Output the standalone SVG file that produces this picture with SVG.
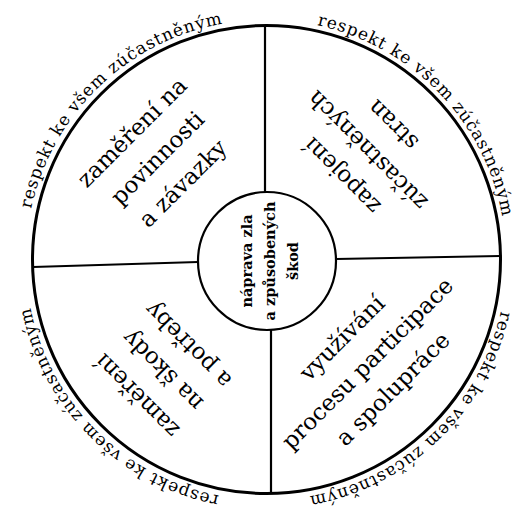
<svg xmlns="http://www.w3.org/2000/svg" width="528" height="519" viewBox="0 0 528 519">
  <style>
    .ring { fill: none; stroke: #000; stroke-width: 3; }
    .hub { fill: #fff; stroke: #000; stroke-width: 2.2; }
    .div { stroke: #000; stroke-width: 2.2; fill: none; }
    .outer { font-family: "DejaVu Serif", serif; font-size: 17px; letter-spacing: 0.9px; fill: #000; }
    .quad { font-family: "DejaVu Serif", serif; font-size: 23px; fill: #000; text-anchor: middle; }
    .core { font-family: "DejaVu Serif", serif; font-size: 14.5px; font-weight: bold; fill: #000; text-anchor: middle; }
  </style>
  <defs>
    <path id="arcTL" d="M26.6,276.7 A239,239 0 0 1 291.1,21.3"/>
    <path id="arcTR" d="M249.3,20.6 A239,239 0 0 1 504.7,285.1"/>
    <path id="arcBR" d="M505.4,243.3 A239,239 0 0 1 240.9,498.7"/>
    <path id="arcBL" d="M286.9,499.1 A239,239 0 0 1 26.9,239.1"/>
  </defs>
  <rect width="528" height="519" fill="#fff"/>

  <g id="connectors">
    <line class="div" x1="265" y1="27" x2="265" y2="193"/>
    <line class="div" x1="271" y1="329" x2="271" y2="493"/>
    <line class="div" x1="33" y1="267" x2="198" y2="262"/>
    <line class="div" x1="336" y1="259" x2="500" y2="256"/>
  </g>

  <g id="outer-ring">
    <circle class="ring" cx="266.5" cy="259.5" r="234"/>
    <text class="outer"><textPath href="#arcTL" startOffset="50%" text-anchor="middle">respekt ke všem zúčastněným</textPath></text>
    <text class="outer"><textPath href="#arcTR" startOffset="50%" text-anchor="middle">respekt ke všem zúčastněným</textPath></text>
    <text class="outer"><textPath href="#arcBR" startOffset="50%" text-anchor="middle">respekt ke všem zúčastněným</textPath></text>
    <text class="outer"><textPath href="#arcBL" startOffset="50%" text-anchor="middle">respekt ke všem zúčastněným</textPath></text>
  </g>

  <g id="node-center">
    <circle class="hub" cx="267" cy="261" r="69"/>
    <g transform="translate(270,261) rotate(-90)">
      <text class="core" x="0" y="-18">náprava zla</text>
      <text class="core" x="0" y="5">a způsobených</text>
      <text class="core" x="0" y="28">škod</text>
    </g>
  </g>

  <g id="node-top-left" transform="translate(158,158.5) rotate(-45)">
    <text class="quad" x="0" y="-29">zaměření na</text>
    <text class="quad" x="0" y="7">povinnosti</text>
    <text class="quad" x="0" y="43">a závazky</text>
  </g>

  <g id="node-top-right" transform="translate(368,150) rotate(-135)">
    <text class="quad" x="0" y="-29">zapojení</text>
    <text class="quad" x="0" y="7">zúčastněných</text>
    <text class="quad" x="0" y="43">stran</text>
  </g>

  <g id="node-bottom-left" transform="translate(163,370) rotate(-135)">
    <text class="quad" x="0" y="-29">zaměření</text>
    <text class="quad" x="0" y="7">na škody</text>
    <text class="quad" x="0" y="43">a potřeby</text>
  </g>

  <g id="node-bottom-right" transform="translate(368,364) rotate(-45)">
    <text class="quad" x="0" y="-29">využívání</text>
    <text class="quad" x="0" y="7">procesu participace</text>
    <text class="quad" x="0" y="43">a spolupráce</text>
  </g>
</svg>
